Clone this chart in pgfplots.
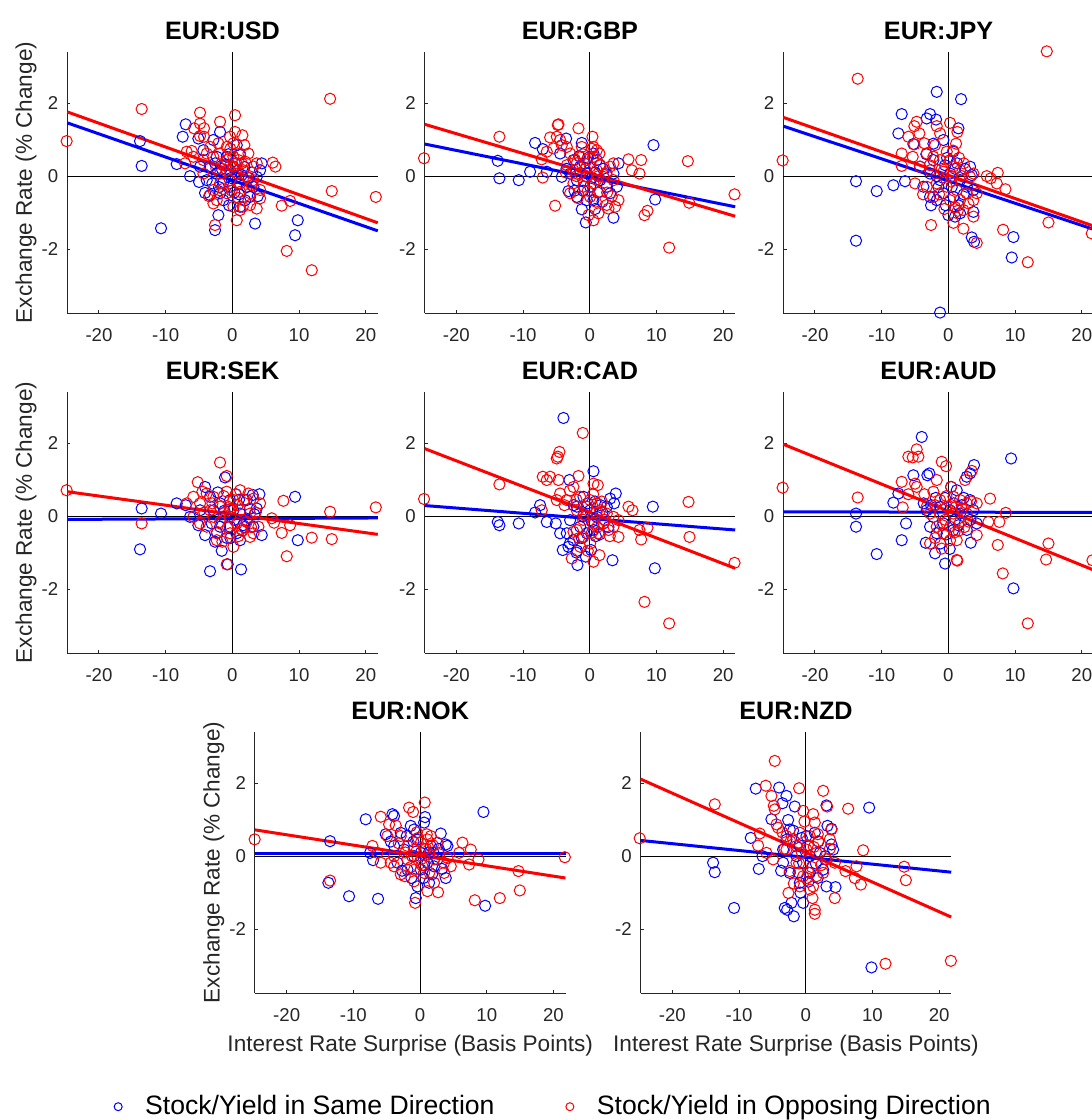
\documentclass[border=0pt]{standalone}
\usepackage{fontspec}
\setmainfont{Liberation Sans}
\usepackage{pgfplots}
\pgfplotsset{compat=1.18}
\definecolor{axgray}{rgb}{0.15,0.15,0.15}
\pgfplotsset{
  panel/.style={
    scale only axis, width=155.25pt, height=130.8pt,
    xmin=-24.75, xmax=21.8, ymin=-3.76, ymax=3.41,
    axis x line=bottom, axis y line=left,
    every inner x axis line/.append style={-},
    every outer x axis line/.append style={-},
    every inner y axis line/.append style={-},
    every outer y axis line/.append style={-},
    axis line style={color=axgray, line width=0.5pt, -},
    tick align=inside, major tick length=1.6pt,
    tick style={color=axgray, line width=0.5pt},
    xtick={-20,-10,0,10,20}, ytick={-2,0,2},
    /pgf/number format/assume math mode=true,
    tick label style={font=\fontsize{9.3}{10}\selectfont, color=axgray},
    xticklabel style={yshift=-4.3pt},
    yticklabel style={xshift=-1pt},
    every axis title/.style={at={(axis description cs:0.5,1.0474)}, anchor=base,
        font=\bfseries\fontsize{12.6}{14}\selectfont},
    every axis y label/.style={at={(axis description cs:-0.1137,0.5)}, rotate=90, anchor=base,
        font=\fontsize{11.3}{13}\selectfont, color=axgray},
    every axis x label/.style={at={(axis description cs:0.5,-0.2217)}, anchor=base,
        font=\fontsize{11.3}{13}\selectfont, color=axgray},
    clip=false,
  },
  bpts/.style={only marks, mark=o, color=blue, mark size=2.8pt, mark options={line width=0.5pt}},
  rpts/.style={only marks, mark=o, color=red, mark size=2.8pt, mark options={line width=0.5pt}},
  bline/.style={color=blue, line width=1.5pt, no marks},
  rline/.style={color=red, line width=1.5pt, no marks},
  zline/.style={color=black, line width=0.5pt, no marks, forget plot},
  dotlegend/.style={legend image code/.code={\draw[##1] plot coordinates {(0pt,0pt)};}},
  leg/.style={legend style={at={#1}, anchor=west, draw=none, fill=none, inner sep=0pt,
      column sep=9.5pt, font=\fontsize{13.3}{15}\selectfont}},
}
\newcommand{\zerolines}{%
  \addplot[zline] coordinates {(0,-3.76) (0,3.41)};
  \addplot[zline] coordinates {(-24.75,0) (21.8,0)};
}
\begin{document}
\begin{tikzpicture}
\useasboundingbox (0,0) rectangle (546pt,-560pt);

% ---------------- EUR:USD
\begin{axis}[panel, at={(33.65pt,-156.65pt)}, anchor=south west, title={EUR:USD}, ylabel={Exchange Rate (\% Change)}]
\zerolines
\addplot[bpts] coordinates {(-13.85,0.96) (-13.6,0.28) (-10.7,-1.43) (-8.35,0.33) (-7.0,1.42) (-7.45,1.08) (-6.35,0.0) (-5.0,-0.16) (-4.1,-0.46) (-3.35,-0.52) (-2.6,-1.48) (-2.1,-1.07) (-5.1,1.03) (-1.85,1.21) (-2.85,0.99) (0.65,0.85) (1.15,0.58) (3.4,-1.30) (4.4,0.35) (4.15,0.16) (3.65,-0.02) (3.15,-0.29) (9.4,-1.62) (9.8,-1.21) (-4.35,0.71) (-3.35,0.26) (-2.35,0.07) (-1.35,-0.16) (-0.35,-0.29) (0.9,-0.2) (2.15,-0.29) (2.65,-0.57) (-1.35,-0.66) (-0.35,0.16) (-0.85,0.53) (-2.35,0.53) (0.15,0.26) (1.4,0.03) (-3.85,-0.11) (-1.85,-0.47) (1.9,-0.66) (1.15,-0.84) (-4.85,0.26) (-1.0,0.3) (0.5,-0.05) (-2.0,-0.3) (1.8,0.25) (-0.5,-0.8) (2.5,-0.05) (-0.6,0.6) (0.3,-0.45) (-1.6,0.2) (2.9,0.1) (-3.0,-0.2) (1.0,-0.5) (-0.2,-0.05) (3.8,-0.55) (-2.6,0.35) (0.8,0.15)};
\addplot[rpts] coordinates {(-24.85,0.96) (-13.6,1.84) (14.65,2.12) (14.9,-0.41) (21.5,-0.57) (11.9,-2.58) (8.15,-2.05) (7.4,-0.81) (8.65,-0.68) (6.05,0.37) (6.45,0.26) (0.4,1.67) (-4.85,1.74) (-1.85,1.49) (-4.85,1.44) (-4.25,1.31) (-5.75,1.31) (-4.85,1.10) (-4.25,1.08) (0.4,1.21) (1.5,1.12) (-0.35,1.08) (-2.1,0.9) (-6.85,0.67) (-6.1,0.69) (-7.1,0.35) (-5.85,0.53) (-4.35,0.44) (-3.85,0.62) (-2.85,0.53) (-1.85,0.62) (-0.85,0.44) (0.15,0.53) (1.15,0.62) (1.4,0.35) (0.15,0.26) (-0.85,0.16) (-1.85,0.07) (0.65,0.07) (1.65,0.16) (3.65,0.35) (3.15,0.26) (2.15,-0.02) (-0.35,-0.11) (-1.85,-0.2) (1.15,-0.2) (-2.85,-0.38) (-0.85,-0.47) (1.15,-0.43) (2.65,-0.47) (4.15,-0.38) (4.15,-0.61) (-2.35,-0.66) (-2.85,-0.75) (0.15,-0.84) (1.15,-0.93) (1.55,-0.84) (2.65,-0.79) (3.65,-0.89) (0.65,-1.21) (-2.6,-1.34) (0.15,0.9) (-0.85,0.8) (-0.35,0.30) (0.9,0.44) (2.4,0.62) (-4.35,0.07) (3.15,-0.11) (-0.3,0.75) (0.6,0.35) (-1.3,0.3) (1.9,0.4) (-2.4,0.2) (-3.3,0.8) (0.9,-0.6) (-1.4,-0.35) (2.9,-0.25) (-0.1,-0.4) (1.8,0.85) (-3.5,-0.55)};
\addplot[bline] coordinates {(-24.75,1.46) (21.8,-1.50)};
\addplot[rline] coordinates {(-24.75,1.76) (21.8,-1.28)};
\end{axis}

% ---------------- EUR:GBP
\begin{axis}[panel, at={(212.35pt,-156.65pt)}, anchor=south west, title={EUR:GBP}]
\zerolines
\addplot[bpts] coordinates {(-13.8,0.42) (-13.55,-0.06) (-10.65,-0.11) (-8.2,0.91) (-8.95,0.12) (-7.05,0.74) (-6.45,0.12) (-4.2,-0.02) (-3.55,1.03) (-1.2,0.91) (9.55,0.85) (9.8,-0.64) (3.55,-1.14) (-1.2,-0.91) (-0.6,-1.27) (-3.2,-0.41) (-1.95,-0.57) (-0.45,-0.66) (0.55,-0.66) (4.3,0.35) (3.55,0.07) (4.05,-0.29) (2.55,-0.29) (1.55,-0.11) (0.55,0.62) (-2.45,0.44) (-1.45,0.26) (-0.45,0.07) (-1.95,-0.11) (0.05,-0.29) (-4.45,0.62) (-2.95,0.07) (1.05,0.44) (3.05,-0.47) (-0.8,0.35) (0.8,0.1) (2.0,0.2) (-1.0,-0.4) (1.2,-0.45) (-0.3,0.5) (1.5,0.3) (-2.3,-0.4) (0.8,-0.9) (2.5,0.05) (-3.5,0.2) (-0.9,-0.15) (1.9,-0.7) (-1.6,0.55) (0.3,-0.05)};
\addplot[rpts] coordinates {(-24.85,0.49) (-13.55,1.08) (-7.05,-0.04) (-5.2,-0.81) (-4.7,1.42) (-4.8,1.40) (-1.7,1.31) (0.4,1.08) (-5.95,1.06) (-4.95,1.08) (-4.45,0.99) (-4.2,0.85) (-5.45,0.76) (-7.2,0.46) (-6.45,0.67) (-2.95,0.62) (-1.2,0.80) (1.05,0.71) (1.45,0.62) (0.55,0.53) (-0.45,0.44) (-1.95,0.35) (-3.45,0.30) (-2.45,0.16) (-1.45,0.07) (0.05,0.26) (1.05,0.16) (2.05,-0.02) (3.55,0.35) (5.8,0.46) (6.3,0.16) (7.7,0.44) (7.45,0.07) (-2.45,-0.2) (-0.95,-0.29) (0.55,-0.2) (1.55,-0.43) (3.55,-0.11) (4.3,-0.66) (2.55,-0.79) (2.8,-0.89) (1.3,-1.02) (0.55,-1.21) (-0.2,-1.07) (3.8,-0.84) (8.2,-1.07) (8.65,-0.95) (11.9,-1.96) (14.7,0.41) (14.9,-0.73) (21.7,-0.50) (-2.95,-0.47) (0.05,-0.57) (0.55,0.80) (-3.45,0.8) (-1.45,0.53) (3.05,0.26) (-0.5,0.0) (1.0,-0.1) (-2.0,0.0) (2.5,0.1) (-1.0,0.6) (0.3,0.75) (-2.2,0.45) (1.6,0.3) (-3.6,0.1) (-0.3,-0.4) (0.9,-0.7) (2.6,-0.45) (-1.8,-0.6) (3.3,-0.55) (1.3,0.0) (-0.7,0.2)};
\addplot[bline] coordinates {(-24.75,0.88) (21.8,-0.84)};
\addplot[rline] coordinates {(-24.75,1.42) (21.8,-1.10)};
\end{axis}

% ---------------- EUR:JPY
\begin{axis}[panel, at={(391.65pt,-156.65pt)}, anchor=south west, title={EUR:JPY}]
\zerolines
\addplot[bpts] coordinates {(-13.85,-0.14) (-13.85,-1.77) (-10.75,-0.41) (-8.25,-0.25) (-6.5,-0.14) (-7.0,1.70) (-7.5,1.17) (-2.75,1.70) (-1.75,2.31) (1.9,2.11) (-3.25,1.58) (-1.85,1.55) (1.5,1.31) (-5.25,0.88) (-2.25,0.89) (-0.75,0.99) (0.75,0.67) (3.25,0.26) (3.5,0.03) (-1.25,-3.74) (3.5,-1.68) (3.85,-1.80) (9.75,-1.67) (9.5,-2.23) (0.0,-1.07) (1.0,-1.11) (1.75,-1.02) (3.75,-0.98) (-1.75,-0.66) (-3.75,-0.29) (-4.25,0.26) (-2.75,0.07) (-1.25,-0.11) (0.25,0.07) (1.75,-0.11) (2.75,-0.29) (3.75,-0.38) (-2.75,-0.57) (-0.75,-0.47) (0.75,-0.57) (-2.25,0.44) (-0.5,0.3) (1.0,0.2) (-1.5,-0.3) (-3.3,0.6) (-0.4,-0.8) (1.3,0.35) (2.3,-0.5) (-1.8,0.0) (0.5,-0.3) (-2.6,-0.8) (2.5,0.2) (-0.2,0.5) (1.5,-0.8)};
\addplot[rpts] coordinates {(-24.85,0.43) (-13.6,2.67) (14.75,3.42) (15.0,-1.27) (21.5,-1.57) (11.9,-2.36) (8.2,-1.47) (7.4,0.09) (8.55,-0.36) (5.75,0.0) (6.35,-0.06) (7.25,-0.2) (-2.6,-1.34) (4.25,-1.83) (2.25,-1.44) (0.75,-1.28) (1.4,-0.95) (3.75,-1.11) (-4.75,1.49) (-4.35,1.17) (-5.1,1.37) (-1.75,1.37) (0.25,1.46) (1.35,1.21) (1.15,0.89) (-6.0,1.08) (-5.1,0.87) (-7.0,0.62) (-7.0,0.28) (-5.35,0.53) (-3.25,0.62) (-2.25,0.53) (-1.25,0.44) (0.25,0.44) (-4.25,0.26) (-2.75,0.16) (-0.75,0.12) (0.75,0.26) (1.75,0.16) (3.25,-0.02) (3.75,0.07) (-5.0,-0.2) (-3.25,-0.29) (-1.75,-0.2) (-0.25,-0.29) (1.25,-0.38) (2.75,-0.47) (4.25,-0.47) (3.75,-0.66) (0.25,-0.66) (1.75,-0.66) (-2.25,-0.57) (2.25,-0.93) (-0.25,0.67) (-1.25,1.17) (0.5,0.0) (-1.0,0.2) (2.0,0.0) (-3.6,0.9) (-2.0,0.85) (0.7,0.7) (2.3,0.35) (-1.4,-0.5) (0.4,-0.15) (1.0,-0.85) (3.0,-0.75) (-3.8,-0.5) (-0.6,-0.9) (1.6,0.5) (-2.8,0.3)};
\addplot[bline] coordinates {(-24.75,1.37) (21.8,-1.46)};
\addplot[rline] coordinates {(-24.75,1.61) (21.8,-1.37)};
\end{axis}

% ---------------- EUR:SEK
\begin{axis}[panel, at={(33.65pt,-326.65pt)}, anchor=south west, title={EUR:SEK}, ylabel={Exchange Rate (\% Change)}]
\zerolines
\addplot[bpts] coordinates {(-13.6,0.21) (-13.85,-0.91) (-10.7,0.07) (-8.35,0.35) (-7.0,0.30) (-6.35,-0.02) (-5.1,-0.25) (-4.1,-0.52) (-3.35,-1.51) (-2.6,-0.70) (-1.6,-0.95) (-1.1,1.06) (-4.1,0.80) (-0.7,-1.32) (1.3,-1.46) (9.4,0.53) (9.8,-0.66) (4.4,-0.52) (4.05,0.60) (3.05,0.58) (3.65,0.21) (1.15,-0.66) (-0.35,0.44) (-1.85,0.35) (-2.85,0.16) (0.15,0.16) (1.15,0.07) (2.15,-0.11) (-1.85,-0.29) (-0.35,-0.29) (0.65,-0.47) (3.15,-0.29) (2.15,0.44) (-3.35,0.53) (-4.85,0.16) (-1.35,-0.02) (0.5,0.6) (-0.8,-0.6) (1.8,-0.3) (-2.2,0.65) (1.0,0.45) (2.6,0.2) (-3.1,-0.2) (-0.3,-0.6) (1.6,-0.25) (-1.2,0.15) (0.3,-0.1) (3.3,0.05) (-2.3,-0.45)};
\addplot[rpts] coordinates {(-24.85,0.71) (-13.6,-0.20) (-1.85,1.47) (-0.85,1.10) (-5.2,0.93) (-4.5,0.67) (-3.85,0.62) (-5.85,0.53) (-6.85,0.35) (-4.85,0.35) (-2.85,0.53) (-0.85,0.67) (1.15,0.71) (2.4,0.62) (3.15,0.48) (4.15,0.35) (0.15,0.44) (-1.85,0.26) (-3.35,0.16) (-5.85,-0.02) (1.15,0.16) (2.65,0.07) (-0.35,-0.02) (-1.85,-0.16) (0.65,-0.2) (2.15,-0.16) (3.9,-0.29) (5.9,-0.06) (6.25,-0.18) (7.65,0.42) (7.4,-0.46) (8.65,-0.25) (8.15,-1.10) (11.9,-0.59) (14.65,0.12) (14.9,-0.63) (21.5,0.24) (-2.35,-0.47) (-3.85,-0.29) (-0.35,-0.47) (0.15,-0.84) (-0.85,-1.32) (-2.35,-0.66) (2.65,-0.57) (3.15,-0.47) (-2.85,-0.02) (-4.85,-0.2) (0.8,0.3) (-1.2,0.1) (1.5,-0.4) (-0.5,0.25) (-1.3,0.55) (0.5,0.6) (1.8,0.45) (-3.0,0.35) (-4.2,0.1) (-0.7,-0.3) (1.3,-0.35) (2.8,-0.3) (-1.5,-0.7) (0.9,-0.55) (3.5,0.1) (-0.2,0.2)};
\addplot[bline] coordinates {(-24.75,-0.09) (21.8,-0.05)};
\addplot[rline] coordinates {(-24.75,0.67) (21.8,-0.50)};
\end{axis}

% ---------------- EUR:CAD
\begin{axis}[panel, at={(212.35pt,-326.65pt)}, anchor=south west, title={EUR:CAD}]
\zerolines
\addplot[bpts] coordinates {(-13.8,-0.16) (-13.55,-0.25) (-10.65,-0.2) (-8.2,0.10) (-7.45,0.30) (-6.45,-0.16) (-5.1,-0.2) (-3.95,2.69) (-3.05,0.99) (0.55,1.23) (-4.05,-0.93) (-3.2,-0.84) (-1.85,-1.34) (-0.6,-1.11) (0.2,-0.93) (3.4,-1.21) (3.9,0.62) (3.65,0.35) (3.05,0.48) (9.45,0.26) (9.75,-1.43) (-2.95,-0.11) (-1.95,0.26) (-0.95,0.53) (0.05,0.16) (1.05,-0.02) (2.05,-0.2) (-1.45,-0.29) (-0.45,-0.47) (-2.45,-0.66) (0.55,-0.38) (-3.45,-0.47) (2.55,0.26) (-4.45,-0.47) (-1.0,0.0) (0.8,0.4) (1.5,-0.5) (-2.0,-1.0) (-2.4,0.3) (-1.2,-0.6) (0.3,-0.15) (1.6,0.3) (-3.0,-0.75) (0.9,-0.55) (2.8,-0.3) (-0.3,0.35) (-1.9,-0.95) (1.9,0.1)};
\addplot[rpts] coordinates {(-24.85,0.47) (-13.55,0.87) (-1.05,2.28) (-4.55,1.76) (-4.8,1.63) (-4.95,1.58) (-7.05,1.08) (-5.95,1.08) (-6.45,0.99) (-4.7,0.99) (-1.7,1.10) (0.55,0.89) (1.2,0.85) (-2.45,0.80) (-4.45,0.62) (-4.95,0.44) (-3.45,0.44) (-1.45,0.53) (0.05,0.44) (1.05,0.35) (-0.45,0.26) (-1.95,0.16) (1.55,0.16) (2.55,0.07) (3.55,-0.02) (4.3,-0.11) (5.8,0.26) (6.4,0.16) (14.8,0.39) (14.95,-0.57) (21.7,-1.28) (11.9,-2.94) (8.2,-2.35) (7.45,-0.38) (7.7,-0.64) (8.65,-0.32) (4.3,-0.57) (2.8,-0.38) (1.3,-0.47) (1.45,-1.07) (0.55,-1.25) (-2.7,-1.16) (-1.95,-0.38) (-0.95,-0.57) (0.05,-0.75) (-1.45,-0.84) (-2.45,-0.43) (0.55,-0.2) (3.55,-0.29) (-7.2,0.16) (-0.5,0.0) (1.0,0.1) (-1.0,-0.1) (2.0,-0.2) (-3.0,0.7) (-2.0,0.45) (0.5,0.6) (1.8,0.4) (-0.9,0.05) (0.3,-0.45) (2.2,-0.1) (-1.6,-0.6) (-0.3,-0.95) (3.0,-0.55) (1.1,-0.3) (-3.8,0.3)};
\addplot[bline] coordinates {(-24.75,0.29) (21.8,-0.38)};
\addplot[rline] coordinates {(-24.75,1.85) (21.8,-1.43)};
\end{axis}

% ---------------- EUR:AUD
\begin{axis}[panel, at={(391.65pt,-326.65pt)}, anchor=south west, title={EUR:AUD}]
\zerolines
\addplot[bpts] coordinates {(-13.85,0.07) (-13.85,-0.29) (-10.75,-1.04) (-8.25,0.37) (-7.5,0.62) (-7.0,-0.66) (-6.35,-0.2) (-4.0,2.17) (-5.25,1.12) (-3.15,1.12) (-2.85,1.17) (1.25,0.71) (0.4,0.80) (2.75,1.08) (3.25,1.17) (3.85,1.40) (9.4,1.58) (9.75,-1.98) (-0.5,-1.30) (-2.0,-1.02) (-3.4,-0.73) (3.35,-0.73) (4.25,-0.2) (3.75,0.16) (3.25,0.44) (-2.25,-0.02) (-1.25,0.26) (0.25,0.16) (1.75,0.07) (-2.75,-0.29) (-0.75,-0.2) (0.75,-0.38) (2.75,-0.38) (-1.75,-0.47) (-3.25,0.16) (-0.5,0.5) (1.0,-0.1) (2.0,0.3) (-1.9,0.5) (0.8,0.35) (2.3,0.5) (-2.6,0.3) (-0.3,-0.5) (1.5,-0.25) (-1.2,-0.75) (3.3,-0.1) (0.2,-0.9) (-3.7,0.35)};
\addplot[rpts] coordinates {(-24.85,0.78) (-13.6,0.51) (-4.75,1.83) (-6.0,1.63) (-5.35,1.61) (-4.5,1.63) (-1.0,1.49) (-0.35,1.37) (3.5,1.24) (2.5,0.99) (-7.0,0.94) (-5.0,0.89) (-4.75,0.80) (-6.0,0.60) (-6.85,0.24) (-1.75,0.99) (-2.25,0.67) (0.75,0.53) (1.75,0.44) (-1.25,0.44) (-3.25,0.26) (-0.25,0.26) (2.75,0.35) (4.25,0.35) (6.25,0.48) (6.0,-0.16) (7.65,-0.16) (8.6,0.09) (7.4,-0.79) (8.15,-1.57) (11.9,-2.94) (15.0,-0.75) (14.65,-1.19) (21.6,-1.21) (1.35,-1.22) (1.25,-1.2) (-2.75,-0.75) (-1.0,-0.89) (0.25,-0.66) (1.25,-0.66) (4.25,-0.52) (-1.75,-0.29) (0.25,-0.29) (1.75,-0.16) (2.75,0.07) (0.75,0.07) (-1.25,0.07) (-2.75,0.07) (-0.75,-0.47) (0.5,0.3) (-0.5,-0.1) (1.5,-0.4) (-3.6,0.6) (-2.0,0.3) (0.4,0.8) (2.0,0.2) (3.4,0.4) (-0.9,-0.25) (0.9,-0.45) (2.4,-0.3) (-2.0,-0.6) (-0.3,0.55) (1.1,0.25) (3.0,-0.15)};
\addplot[bline] coordinates {(-24.75,0.12) (21.8,0.10)};
\addplot[rline] coordinates {(-24.75,1.97) (21.8,-1.48)};
\end{axis}

% ---------------- EUR:NOK
\begin{axis}[panel, at={(127.5pt,-496.65pt)}, anchor=south west, title={EUR:NOK}, ylabel={Exchange Rate (\% Change)}, xlabel={Interest Rate Surprise (Basis Points)}, leg={(axis description cs:-0.4548,-0.4335)}]
\addlegendimage{bpts, mark size=2pt, dotlegend}
\addlegendentry{Stock/Yield in Same Direction}
\zerolines
\addplot[bpts, forget plot] coordinates {(-13.5,0.41) (-13.75,-0.73) (-10.65,-1.10) (-8.15,1.01) (-7.5,0.09) (-7.05,-0.11) (-6.3,-1.17) (-4.15,1.15) (-3.9,1.10) (-5.15,0.60) (0.75,1.07) (0.6,0.92) (9.5,1.21) (9.75,-1.36) (3.1,0.62) (3.85,0.32) (4.1,0.28) (3.85,-0.60) (1.35,-0.73) (-0.4,-0.83) (-0.65,-1.15) (-2.9,0.64) (-1.4,0.83) (-0.9,0.73) (-3.9,0.28) (-2.4,0.18) (-0.9,0.0) (0.1,0.09) (1.6,0.28) (2.6,-0.09) (2.1,-0.28) (-1.9,-0.37) (-3.4,-0.18) (0.1,-0.37) (1.1,-0.18) (-1.0,0.4) (0.5,-0.6) (2.0,0.1) (-2.0,0.55) (-0.4,0.45) (1.3,0.1) (2.8,0.2) (-2.7,-0.4) (0.6,-0.25) (-1.3,-0.6) (3.3,-0.35) (-4.4,0.4) (1.8,-0.5)};
\addplot[rpts, forget plot] coordinates {(-24.8,0.46) (-13.5,-0.67) (-5.9,1.08) (-1.65,1.33) (-1.05,1.21) (0.7,1.47) (-4.65,0.87) (-3.65,0.84) (-4.9,0.55) (-2.9,0.55) (-7.15,0.28) (-6.4,0.09) (-5.9,-0.18) (-4.4,-0.18) (-3.9,0.0) (-1.9,0.28) (-0.9,0.18) (0.1,0.37) (1.1,0.46) (1.6,0.55) (2.6,0.37) (-1.9,-0.09) (0.1,-0.09) (1.35,0.05) (2.1,-0.09) (3.6,-0.18) (4.6,-0.28) (6.35,0.37) (5.85,0.09) (7.6,0.18) (7.35,-0.23) (8.75,-0.09) (8.2,-1.21) (11.95,-1.15) (14.75,-0.41) (14.95,-0.94) (21.7,-0.03) (-0.75,-1.28) (1.1,-0.96) (2.7,-0.99) (2.1,-0.73) (-0.9,-0.69) (-2.3,-0.55) (-3.9,-0.28) (-0.9,-0.37) (0.6,-0.46) (3.6,-0.46) (-0.3,0.5) (0.9,0.2) (-1.2,0.0) (-3.2,0.35) (-2.2,0.1) (0.6,0.2) (1.9,0.3) (2.9,0.05) (-1.4,-0.3) (0.3,-0.25) (1.4,-0.45) (-2.9,-0.5) (4.1,-0.05) (-0.5,0.65) (1.0,0.6)};
\addplot[bline, forget plot] coordinates {(-24.75,0.07) (21.8,0.07)};
\addplot[rline, forget plot] coordinates {(-24.75,0.72) (21.8,-0.60)};
\end{axis}

% ---------------- EUR:NZD
\begin{axis}[panel, at={(320.35pt,-496.65pt)}, anchor=south west, title={EUR:NZD}, xlabel={Interest Rate Surprise (Basis Points)}, leg={(axis description cs:-0.2422,-0.4335)}]
\addlegendimage{rpts, mark size=2pt, dotlegend}
\addlegendentry{Stock/Yield in Opposing Direction}
\zerolines
\addplot[bpts, forget plot] coordinates {(-13.9,-0.18) (-13.65,-0.44) (-10.75,-1.42) (-8.25,0.50) (-7.05,-0.35) (-6.5,0.0) (-7.5,1.85) (-4.0,1.88) (-2.9,1.65) (-3.5,1.45) (-1.65,1.36) (-5.15,1.01) (-2.65,0.99) (3.1,1.39) (9.5,1.33) (9.85,-3.05) (3.25,0.83) (3.85,0.75) (3.85,0.32) (4.1,0.18) (4.45,-0.85) (3.1,-0.83) (-3.15,-1.42) (-2.8,-1.47) (-2.15,-1.28) (-1.8,-1.65) (-0.4,-1.28) (-0.9,-0.73) (1.35,0.64) (0.1,0.55) (-2.4,0.73) (-3.4,0.18) (-1.4,0.0) (-0.4,-0.18) (0.6,0.0) (2.1,0.09) (2.6,-0.37) (-2.4,-0.46) (-3.4,-0.18) (0.6,-0.46) (-1.0,0.3) (1.5,-0.2) (-1.9,0.7) (-0.6,0.5) (1.9,0.4) (-2.9,0.45) (-1.1,-0.45) (0.4,-0.7) (1.8,-0.6) (-3.7,-0.4) (2.9,0.0) (-0.8,-1.0)};
\addplot[rpts, forget plot] coordinates {(-24.9,0.49) (-13.65,1.42) (-4.65,2.61) (-6.0,1.93) (-1.0,1.86) (2.6,1.79) (6.35,1.30) (3.2,1.36) (-5.15,1.65) (-4.8,1.38) (-4.65,1.28) (-0.4,1.24) (1.1,1.15) (1.35,0.92) (-4.4,0.87) (-4.15,0.78) (-6.9,0.62) (-7.15,0.29) (-5.9,0.09) (-4.9,-0.09) (-2.9,0.55) (-1.9,0.46) (-0.9,0.64) (0.6,0.55) (1.85,0.41) (3.85,0.73) (3.6,0.46) (-2.9,0.18) (-1.4,0.28) (0.1,0.18) (1.6,0.09) (3.1,-0.09) (4.35,-0.18) (8.6,0.16) (5.95,-0.41) (7.6,-0.28) (7.35,-0.60) (8.25,-0.78) (4.35,-1.15) (14.75,-0.29) (15.0,-0.66) (11.95,-2.95) (21.75,-2.87) (1.35,-1.47) (1.35,-1.58) (1.0,-1.15) (0.6,-0.92) (1.1,-0.83) (-0.9,-0.83) (-2.6,-1.01) (-0.4,-0.55) (-2.4,-0.41) (1.6,-0.55) (2.6,-0.46) (-1.4,-0.18) (0.3,0.3) (-0.6,0.1) (0.9,-0.3) (-3.5,0.65) (-2.3,0.4) (-0.2,0.95) (1.8,0.6) (-1.0,-0.2) (0.4,-0.45) (2.3,-0.25) (-1.8,-0.75) (0.1,-0.6) (3.6,0.2) (-3.2,0.2) (1.2,0.25)};
\addplot[bline, forget plot] coordinates {(-24.75,0.43) (21.8,-0.44)};
\addplot[rline, forget plot] coordinates {(-24.75,2.11) (21.8,-1.67)};
\end{axis}
\end{tikzpicture}
\end{document}
